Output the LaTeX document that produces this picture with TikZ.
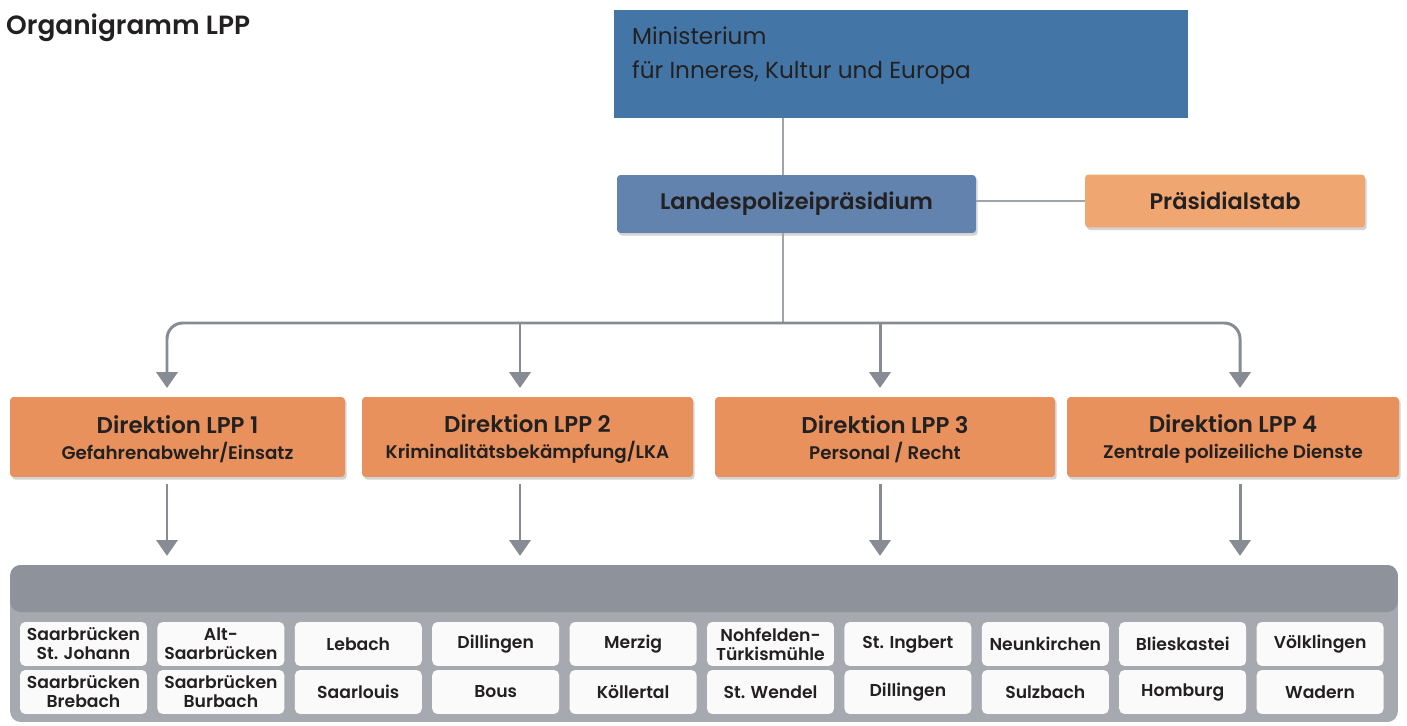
\documentclass[tikz,border=0pt]{standalone}
\usepackage{fontspec}
\setmainfont{Poppins}[BoldFont={Poppins SemiBold}]
\usetikzlibrary{arrows.meta, positioning, shadows}
\definecolor{ministryblue}{RGB}{67, 118, 166}
\definecolor{lppblue}{RGB}{98, 131, 173}
\definecolor{staborange}{RGB}{240, 166, 112}
\definecolor{direkorange}{RGB}{232, 145, 92}
\definecolor{linegray}{RGB}{160, 165, 172}
\definecolor{arrowgray}{RGB}{135, 140, 148}
\definecolor{paneldark}{RGB}{142, 146, 154}
\definecolor{panellight}{RGB}{166, 169, 175}
\definecolor{cellwhite}{RGB}{250, 250, 250}
\definecolor{ink}{RGB}{35, 32, 33}

\begin{document}
\begin{tikzpicture}[x=0.02cm, y=-0.02cm, font=\fontsize{9}{10}\selectfont, text=ink,
  box/.style={inner sep=0pt, rounded corners=2pt, drop shadow={shadow xshift=1pt, shadow yshift=-1.5pt, opacity=0.35}},
  direk/.style={box, fill=direkorange, minimum width=6.7cm, minimum height=1.6cm, align=center},
  cell/.style={fill=cellwhite, rounded corners=3pt, inner sep=0pt, minimum width=2.54cm, minimum height=0.88cm, align=center, font=\fontsize{9.8}{10.8}\selectfont\bfseries},
  conn/.style={draw=linegray, line width=1.6pt},
  arr/.style={draw=arrowgray, line width=1.7pt, -{Triangle[width=12pt, length=9pt]}}]
  \useasboundingbox (0,0) rectangle (1407,726);

  \node[anchor=base west, font=\fontsize{15}{18}\selectfont\bfseries] (title) at (0,35) {Organigramm LPP};

  \node[fill=ministryblue, minimum width=11.48cm, minimum height=2.16cm, inner sep=0pt] (mini) at (901,64) {};
  \node[anchor=north west, align=left, font=\fontsize{13.2}{19}\selectfont] (minitext) at (626,21) {Ministerium\\f\"ur Inneres, Kultur und Europa};

  \node[box, fill=lppblue, minimum width=7.18cm, minimum height=1.16cm, font=\fontsize{12.8}{14}\selectfont\bfseries] (lpp) at (796.5,204) {Landespolizeipr\"asidium};
  \node[box, fill=staborange, minimum width=5.6cm, minimum height=1.06cm, font=\fontsize{12.8}{14}\selectfont\bfseries] (stab) at (1225,201) {Pr\"asidialstab};

  \draw[conn] (mini.south -| 783,0) -- (lpp.north -| 783,0);
  \draw[conn] (lpp.east |- 0,201) -- (stab.west |- 0,201);

  \node[direk] (d1) at (177.5,437) {\fontsize{13}{15}\selectfont\bfseries\rule{0pt}{12.6pt}Direktion LPP 1\\[4.5pt]\fontsize{10.4}{12}\selectfont\bfseries Gefahrenabwehr/Einsatz};
  \node[direk, minimum width=6.62cm] (d2) at (527.5,437) {\fontsize{13}{15}\selectfont\bfseries\rule{0pt}{12.6pt}Direktion LPP 2\\[4.5pt]\fontsize{10.4}{12}\selectfont\bfseries Kriminalit\"atsbek\"ampfung/LKA};
  \node[direk, minimum width=6.8cm] (d3) at (885,437) {\fontsize{13}{15}\selectfont\bfseries\rule{0pt}{12.6pt}Direktion LPP 3\\[4.5pt]\fontsize{10.4}{12}\selectfont\bfseries Personal / Recht};
  \node[direk, minimum width=6.64cm] (d4) at (1233,437) {\fontsize{13}{15}\selectfont\bfseries\rule{0pt}{12.6pt}Direktion LPP 4\\[4.5pt]\fontsize{10.4}{12}\selectfont\bfseries Zentrale polizeiliche Dienste};

  \coordinate (hub) at (783,323);
  \coordinate (a2) at (520,323);
  \coordinate (a3) at (880,323);
  \coordinate (t1) at (167,388);
  \coordinate (t4) at (1240,388);

  \draw[conn] (lpp.south -| hub) -- (hub);
  \draw[arr, rounded corners=9pt] (hub) -| (t1);
  \draw[arr, rounded corners=9pt] (hub) -| (t4);
  \draw[arr] (a2) -- (a2 |- t1);
  \draw[arr] (a3) -- (a3 |- t1);

  \node[rounded corners=6pt, fill=panellight, minimum width=27.76cm, minimum height=3.14cm, inner sep=0pt,
    path picture={\fill[paneldark] (path picture bounding box.north west) rectangle ([yshift=-0.94cm]path picture bounding box.north east);}] (panel) at (704,643.5) {};

  \draw[arr, shorten <=4pt, shorten >=5pt] (d1.south -| t1) -- (panel.north -| t1);
  \draw[arr, shorten <=4pt, shorten >=5pt] (d2.south -| a2) -- (panel.north -| a2);
  \draw[arr, shorten <=4pt, shorten >=5pt] (d3.south -| a3) -- (panel.north -| a3);
  \draw[arr, shorten <=4pt, shorten >=5pt] (d4.south -| t4) -- (panel.north -| t4);

  \node[cell] (c1) at (83.5,644) {Saarbr\"ucken\\St. Johann};
  \node[cell] (c2) at (220.9,644) {Alt-\\Saarbr\"ucken};
  \node[cell] (c3) at (358.3,644) {Lebach};
  \node[cell] (c4) at (495.7,644) {Dillingen};
  \node[cell] (c5) at (633.1,644) {Merzig};
  \node[cell] (c6) at (770.5,644) {Nohfelden-\\T\"urkism\"uhle};
  \node[cell] (c7) at (907.9,644) {St. Ingbert};
  \node[cell] (c8) at (1045.3,644) {Neunkirchen};
  \node[cell] (c9) at (1182.7,644) {Blieskastei};
  \node[cell] (c10) at (1320.1,644) {V\"olklingen};

  \node[cell] (c11) at (83.5,692) {Saarbr\"ucken\\Brebach};
  \node[cell] (c12) at (220.9,692) {Saarbr\"ucken\\Burbach};
  \node[cell] (c13) at (358.3,692) {Saarlouis};
  \node[cell] (c14) at (495.7,692) {Bous};
  \node[cell] (c15) at (633.1,692) {K\"ollertal};
  \node[cell] (c16) at (770.5,692) {St. Wendel};
  \node[cell] (c17) at (907.9,692) {Dillingen};
  \node[cell] (c18) at (1045.3,692) {Sulzbach};
  \node[cell] (c19) at (1182.7,692) {Homburg};
  \node[cell] (c20) at (1320.1,692) {Wadern};
\end{tikzpicture}
\end{document}
